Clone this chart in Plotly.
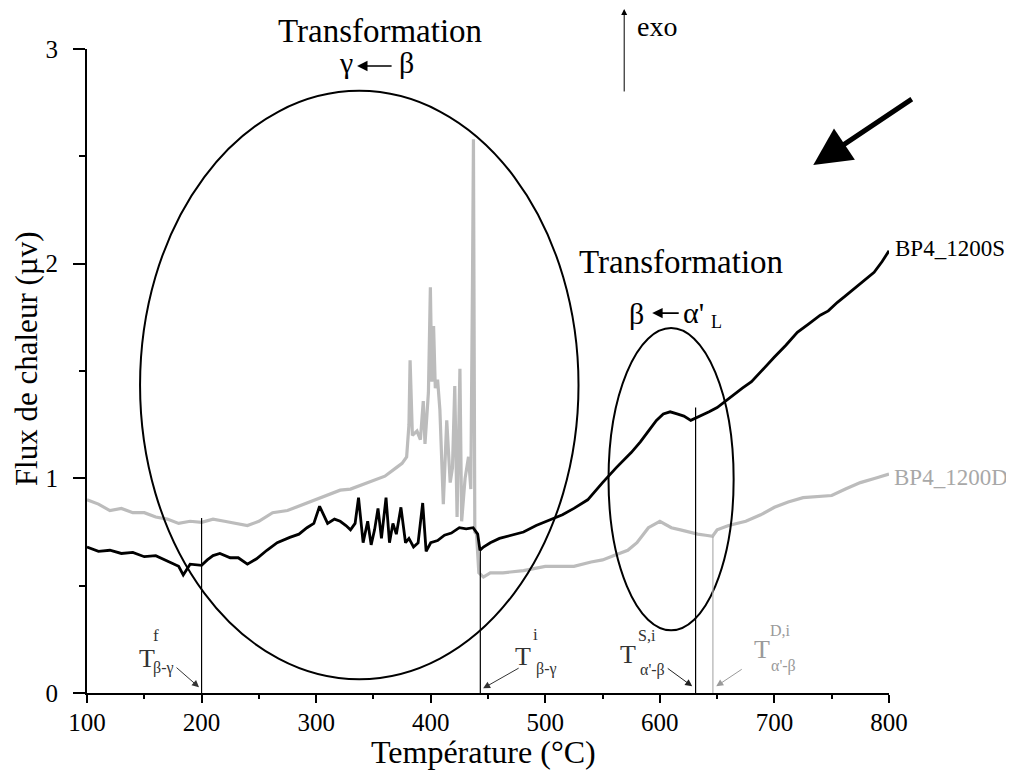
import plotly.graph_objects as go

# ---- data ----
temp_S = [100, 110, 120, 130, 140, 150, 160, 170, 180, 184, 190, 200, 205, 210, 216, 225, 232, 240, 248, 257,
          266, 277, 285, 292, 298, 303, 307, 310, 316, 321, 326, 330, 334, 337, 341, 345, 348, 351, 354, 357,
          361, 364, 367, 370, 374, 378, 381, 385, 389, 393, 396, 400, 406, 412, 418, 425, 431, 437, 441, 443,
          446, 452, 460, 470, 481, 492, 504, 515, 525, 537, 550, 562, 575, 583, 590, 597, 603, 609, 615, 621,
          627, 631, 636, 643, 650, 656, 664, 672, 680, 690, 700, 710, 720, 730, 740, 747, 755, 762, 769, 778,
          787, 794, 800]
flux_S = [0.68, 0.66, 0.665, 0.65, 0.655, 0.635, 0.64, 0.615, 0.59, 0.55, 0.60, 0.595, 0.62, 0.64, 0.65, 0.63, 0.63, 0.60, 0.625, 0.665,
          0.70, 0.725, 0.74, 0.77, 0.79, 0.87, 0.82, 0.79, 0.81, 0.80, 0.78, 0.76, 0.79, 0.91, 0.70, 0.80, 0.69, 0.76, 0.86, 0.72,
          0.91, 0.70, 0.79, 0.74, 0.865, 0.70, 0.72, 0.68, 0.70, 0.885, 0.66, 0.70, 0.71, 0.735, 0.745, 0.77, 0.765, 0.77, 0.74, 0.665,
          0.68, 0.70, 0.72, 0.735, 0.75, 0.78, 0.805, 0.83, 0.86, 0.90, 0.98, 1.05, 1.12, 1.17, 1.22, 1.27, 1.30, 1.31, 1.30, 1.29,
          1.27, 1.28, 1.29, 1.31, 1.33, 1.355, 1.39, 1.42, 1.45, 1.51, 1.565, 1.62, 1.68, 1.72, 1.76, 1.78, 1.82, 1.85, 1.88, 1.92,
          1.96, 2.01, 2.06]

temp_D = [100, 110, 120, 130, 140, 150, 160, 170, 180, 190, 200, 210, 220, 230, 240, 250, 262, 275, 285, 292,
          300, 310, 321, 330, 340, 350, 360, 370, 375, 379, 381, 382, 384, 388, 391, 393.5, 395, 398, 399.7, 401,
          402.5, 404, 406, 408, 411, 414, 417, 419, 421, 423, 425.5, 427, 430, 433, 435, 436.5, 437.3, 438.5, 440, 442,
          446, 452, 463, 481, 500, 511, 525, 540, 550, 560, 572, 580, 590, 600, 610, 618, 625, 633, 640, 646,
          650, 660, 675, 688, 700, 712, 725, 737, 750, 762, 775, 788, 800]
flux_D = [0.90, 0.88, 0.85, 0.86, 0.84, 0.84, 0.82, 0.81, 0.79, 0.80, 0.795, 0.81, 0.80, 0.79, 0.78, 0.80, 0.84, 0.85, 0.87, 0.885,
          0.90, 0.92, 0.945, 0.95, 0.97, 0.99, 1.01, 1.05, 1.07, 1.10, 1.25, 1.55, 1.20, 1.22, 1.18, 1.36, 1.16, 1.40, 1.89, 1.45,
          1.71, 1.42, 1.46, 1.32, 0.88, 1.27, 0.98, 1.05, 1.43, 0.82, 1.51, 0.80, 1.00, 1.10, 0.95, 1.95, 2.58, 0.75, 0.74, 0.56,
          0.54, 0.56, 0.56, 0.57, 0.59, 0.59, 0.59, 0.61, 0.62, 0.64, 0.665, 0.70, 0.77, 0.80, 0.77, 0.76, 0.75, 0.74, 0.735, 0.73,
          0.76, 0.78, 0.80, 0.83, 0.865, 0.89, 0.91, 0.915, 0.92, 0.95, 0.98, 1.00, 1.02]

x_ticks = [100, 200, 300, 400, 500, 600, 700, 800]
y_ticks = [0, 1, 2, 3]

FONT = "Liberation Serif, Times New Roman, Times, DejaVu Serif, serif"

# plot area in screen pixels (page has an 8px body margin)
PL, PR, PT, PB = 87.0, 888.7, 49.0, 692.7

def px(p):
    return (p - PL) / (PR - PL)

def py(p):
    return (PB - p) / (PB - PT)

fig = go.Figure()
fig.add_trace(go.Scatter(x=temp_D, y=flux_D, mode="lines", name="BP4_1200D",
                         line=dict(color="#bcbcbc", width=3.2), showlegend=False))
fig.add_trace(go.Scatter(x=temp_S, y=flux_S, mode="lines", name="BP4_1200S",
                         line=dict(color="#000000", width=2.8), showlegend=False))

# ellipses
fig.add_shape(type="circle", xref="x", yref="y", x0=146.3, x1=529, y0=0.064, y1=2.805,
              line=dict(color="black", width=2))
fig.add_shape(type="circle", xref="x", yref="y", x0=555.2, x1=664.4, y0=0.292, y1=1.70,
              line=dict(color="black", width=2))
# vertical markers
for xv, ytop, col in [(200, 0.815, "black"), (443.3, 0.68, "black"), (631.2, 1.33, "black"), (646.3, 0.73, "#b0b0b0")]:
    fig.add_shape(type="line", xref="x", yref="y", x0=xv, x1=xv, y0=0, y1=ytop,
                  line=dict(color=col, width=1.2))

ann = []
def txt(x, y, s, size, color="black", **kw):
    ann.append(dict(x=px(x), y=py(y), xref="paper", yref="paper", text=s, showarrow=False,
                    xanchor="center", yanchor="middle",
                    font=dict(family=FONT, size=size, color=color), **kw))

def arrow(x, y, ax, ay, color="black", width=1, head=2, size=1.0):
    # tip (x, y) and tail (ax, ay) in screen pixels
    ann.append(dict(x=px(x), y=py(y), xref="paper", yref="paper", ax=ax - x, ay=ay - y,
                    axref="pixel", ayref="pixel",
                    text="", showarrow=True, arrowhead=head, arrowsize=size,
                    arrowwidth=width, arrowcolor=color))

# axis titles
txt(483, 752, "Température (°C)", 32)
txt(26, 358, "Flux de chaleur (µv)", 31, textangle=-90)

# top transformation
txt(380, 31, "Transformation", 33)
txt(346, 62, "γ", 30)
txt(406, 62, "β", 30)
arrow(357, 66, 393, 66, width=1.6, head=2, size=1.3)

# exo
txt(657, 27, "exo", 28)
arrow(624, 7, 624, 93, width=1, head=2, size=1.2)

# big arrow
arrow(813, 165, 913, 98, width=5, head=2, size=1.5)

# second transformation
txt(681, 262, "Transformation", 33)
txt(636, 313, "β", 30)
arrow(652, 313, 680, 313, width=1.6, head=2, size=1.3)
txt(693, 312, "α'", 30)
txt(716, 322, "L", 18)

# series labels
txt(950, 248, "BP4_1200S", 23)
txt(951, 477, "BP4_1200D", 23, color="#a8a8a8")

# T labels
DG = "#333333"
LG = "#9a9a9a"
txt(147, 658, "T", 26, color=DG)
txt(156, 635, "f", 17, color=DG)
txt(163, 668, "β-γ", 16, color=DG)
arrow(199, 687, 175, 666, color=DG, width=1, head=2, size=1.4)

txt(523, 656, "T", 26, color=DG)
txt(535, 634, "i", 17, color=DG)
txt(546, 669, "β-γ", 16, color=DG)
arrow(483, 688, 520, 667, color=DG, width=1, head=2, size=1.4)

txt(628, 654, "T", 26, color=DG)
txt(647, 635, "S,i", 16, color=DG)
txt(652, 670, "α'-β", 16, color=DG)
arrow(692, 686, 666, 667, color="#222222", width=1, head=2, size=1.4)

txt(762, 649, "T", 26, color=LG)
txt(780, 630, "D,i", 16, color=LG)
txt(783, 666, "α'-β", 16, color=LG)
arrow(716, 686, 743, 668, color=LG, width=1, head=2, size=1.4)

BODY = 8
fig.update_layout(
    width=1014 - BODY, height=772 - BODY,
    margin=dict(l=PL - BODY, r=(1014 - BODY) - (PR - BODY), t=PT - BODY, b=(772 - BODY) - (PB - BODY), pad=0),
    paper_bgcolor="white", plot_bgcolor="white",
    annotations=ann,
    font=dict(family=FONT, color="black"),
)
fig.update_xaxes(range=[100, 800], tickvals=x_ticks, ticktext=[str(v) for v in x_ticks],
                 showline=True, linecolor="black", linewidth=2, showgrid=False, zeroline=False,
                 ticks="outside", ticklen=8, tickwidth=2, tickcolor="black",
                 tickfont=dict(family=FONT, size=25, color="black"), ticklabelstandoff=-2,
                 minor=dict(ticks="outside", ticklen=4, tickwidth=2, dtick=50, tickcolor="black", showgrid=False))
fig.update_yaxes(range=[0, 3], tickvals=y_ticks, ticktext=[str(v) for v in y_ticks],
                 showline=True, linecolor="black", linewidth=2, showgrid=False, zeroline=False,
                 ticks="outside", ticklen=12, tickwidth=2, tickcolor="black",
                 tickfont=dict(family=FONT, size=25, color="black"), ticklabelstandoff=10,
                 minor=dict(ticks="outside", ticklen=6, tickwidth=2, dtick=0.5, tickcolor="black", showgrid=False))

fig.write_html("out.html")
